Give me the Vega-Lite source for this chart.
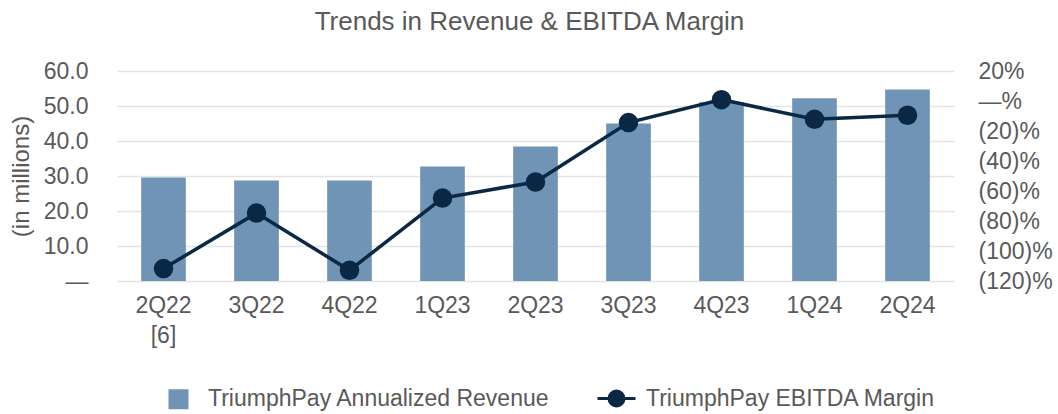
{
  "$schema": "https://vega.github.io/schema/vega-lite/v6.json",
  "autosize": {"type": "none"},
  "width": 837,
  "height": 210,
  "padding": {"left": 117, "top": 71, "right": 104, "bottom": 133},
  "background": "white",
  "config": {
    "font": "Liberation Sans",
    "view": {"stroke": null},
    "axis": {"labelColor": "#595959", "titleColor": "#595959", "labelFontSize": 23, "titleFontSize": 24, "titleFontWeight": "normal"}
  },
  "title": {
    "text": "Trends in Revenue & EBITDA Margin",
    "fontSize": 26,
    "fontWeight": "normal",
    "color": "#595959",
    "anchor": "middle",
    "frame": "group",
    "baseline": "bottom",
    "offset": -1,
    "dx": -6
  },
  "data": {
    "values": [
      {"quarter": "2Q22", "revenue": 29.6, "margin": -111.7},
      {"quarter": "3Q22", "revenue": 28.7, "margin": -74.7},
      {"quarter": "4Q22", "revenue": 28.7, "margin": -112.9},
      {"quarter": "1Q23", "revenue": 32.7, "margin": -64.7},
      {"quarter": "2Q23", "revenue": 38.4, "margin": -54.0},
      {"quarter": "3Q23", "revenue": 45.0, "margin": -14.4},
      {"quarter": "4Q23", "revenue": 51.1, "margin": 0.9},
      {"quarter": "1Q24", "revenue": 52.2, "margin": -12.2},
      {"quarter": "2Q24", "revenue": 54.7, "margin": -9.5}
    ]
  },
  "encoding": {
    "x": {
      "field": "quarter",
      "type": "nominal",
      "sort": null,
      "scale": {"paddingInner": 0.52, "paddingOuter": 0.26},
      "axis": {
        "title": null,
        "labelAngle": 0,
        "domain": false,
        "ticks": false,
        "labelPadding": 13,
        "labelLineHeight": 30,
        "labelExpr": "datum.value === '2Q22' ? ['2Q22', '[6]'] : datum.label"
      }
    }
  },
  "layer": [
    {
      "mark": {"type": "bar"},
      "encoding": {
        "y": {
          "field": "revenue",
          "type": "quantitative",
          "scale": {"domain": [0, 60], "nice": false, "zero": true},
          "axis": {
            "title": "(in millions)",
            "values": [0, 10, 20, 30, 40, 50, 60],
            "labelExpr": "datum.value === 0 ? '—' : format(datum.value, '.1f')",
            "grid": true,
            "gridColor": "#e4e4e4",
            "gridWidth": 1.5,
            "domain": false,
            "ticks": false,
            "labelPadding": 29,
            "titlePadding": 10
          }
        },
        "color": {
          "datum": "TriumphPay Annualized Revenue",
          "type": "nominal",
          "scale": {
            "domain": ["TriumphPay Annualized Revenue", "TriumphPay EBITDA Margin"],
            "range": ["#7094b5", "#0a2743"]
          },
          "legend": {
            "title": null,
            "orient": "none",
            "direction": "horizontal",
            "legendX": 50,
            "legendY": 316,
            "labelFontSize": 23,
            "labelColor": "#595959",
            "symbolSize": 400,
            "labelOffset": 18,
            "columnPadding": 41,
            "labelLimit": 500,
            "encode": {
              "symbols": {
                "update": {
                  "shape": {"signal": "datum.value === 'TriumphPay EBITDA Margin' ? 'M-1.9,0H1.9M-0.75,0A0.75,0.75,0,1,0,0.75,0A0.75,0.75,0,1,0,-0.75,0Z' : 'square'"},
                  "fill": {"signal": "datum.value === 'TriumphPay EBITDA Margin' ? '#0a2743' : '#7094b5'"},
                  "stroke": {"signal": "datum.value === 'TriumphPay EBITDA Margin' ? '#0a2743' : '#7094b5'"},
                  "strokeWidth": {"signal": "datum.value === 'TriumphPay EBITDA Margin' ? 3 : 0"},
                  "opacity": {"value": 1}
                }
              }
            }
          }
        }
      }
    },
    {
      "mark": {"type": "line", "strokeWidth": 3.5, "point": {"size": 380, "filled": true, "opacity": 1}},
      "encoding": {
        "y": {
          "field": "margin",
          "type": "quantitative",
          "scale": {"domain": [-120, 20], "nice": false, "zero": false},
          "axis": {
            "orient": "right",
            "title": null,
            "values": [-120, -100, -80, -60, -40, -20, 0, 20],
            "labelExpr": "datum.value === 0 ? '—%' : datum.value < 0 ? '(' + format(-datum.value, 'd') + ')%' : format(datum.value, 'd') + '%'",
            "grid": false,
            "domain": false,
            "ticks": false,
            "labelPadding": 24
          }
        },
        "color": {"datum": "TriumphPay EBITDA Margin", "type": "nominal"}
      }
    }
  ],
  "resolve": {"scale": {"y": "independent"}}
}
